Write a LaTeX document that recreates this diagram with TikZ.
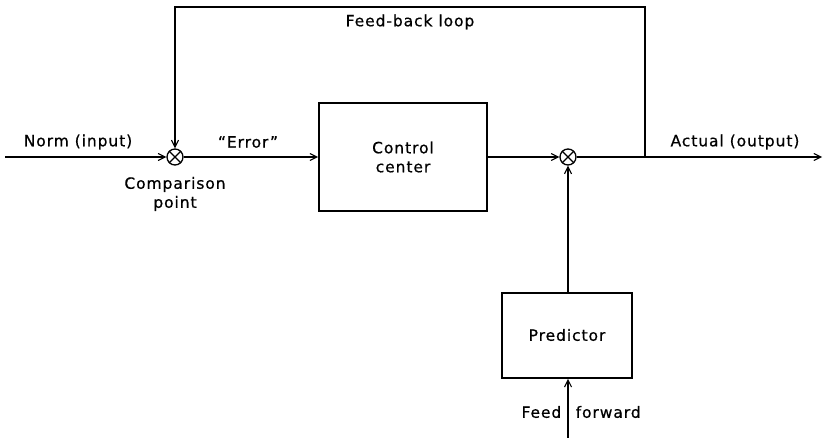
\documentclass[tikz,border=0pt]{standalone}
\usepackage{fontspec}
\setmainfont[LetterSpace=6,FakeBold=0.6]{DejaVu Sans}
\usetikzlibrary{arrows.meta}
\begin{document}
\begin{tikzpicture}[x=1pt,y=-1pt,
  line width=1.4pt,
  arr/.style={-{Straight Barb[length=7pt,width=7pt,line width=1.1pt]}},
  summer/.style={draw,circle,inner sep=0pt,minimum size=16pt,line width=1.3pt},
  lbl/.style={font=\fontsize{15.5}{19}\selectfont,inner sep=0pt}]
\useasboundingbox (0,0) rectangle (824,438);
% nodes
\node[summer] (cmp) at (175,157) {};
\draw[line width=1.1pt] (cmp.45)--(cmp.225) (cmp.135)--(cmp.315);
\node[summer] (sum) at (568,157) {};
\draw[line width=1.1pt] (sum.45)--(sum.225) (sum.135)--(sum.315);
\node[draw,line width=1.6pt,minimum width=168pt,minimum height=108pt,inner sep=0pt] (cc) at (403,157) {};
\node[lbl,align=center] (cct) at (403,157) {Control\\center};
\node[draw,line width=1.6pt,minimum width=130pt,minimum height=85pt,inner sep=0pt] (pr) at (567,335.5) {};
\node[lbl] (prt) at (567,335) {Predictor};
\coordinate (in) at (5,157);
\coordinate (out) at (822,157);
\coordinate (fb) at (645,157);
\coordinate (fbtl) at (175,7);
\coordinate (fbtr) at (645,7);
\coordinate (ff) at (568,438);
% connectors
\draw[arr] (in) -- (cmp);
\draw[arr] (cmp) -- (cc.west);
\draw[arr] (cc.east) -- (sum);
\draw[arr] (sum) -- (out);
\draw[arr] (fb) -- (fbtr) -- (fbtl) -- (cmp);
\draw[arr] (pr.north -| sum) -- (sum);
\draw[arr] (ff) -- (pr.south -| ff);
% labels
\node[lbl] (l1) at (78,142) {Norm (input)};
\node[lbl] (l2) at (248,142) {``Error''};
\node[lbl,align=center] (l3) at (175,194) {Comparison\\point};
\node[lbl] (l4) at (410,22) {Feed-back loop};
\node[lbl] (l5) at (735,142) {Actual (output)};
\node[lbl,anchor=east] (l6) at (562,412) {Feed};
\node[lbl,anchor=west] (l7) at (575,412) {forward};
\end{tikzpicture}
\end{document}
